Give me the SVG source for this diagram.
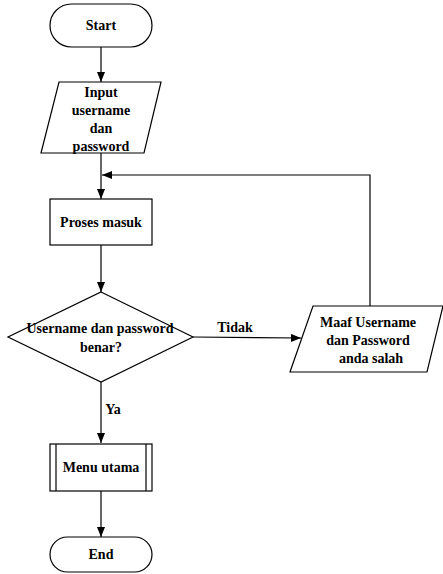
<svg xmlns="http://www.w3.org/2000/svg" width="443" height="574" viewBox="0 0 443 574">
<style>
.s{fill:#fff;stroke:#000;stroke-width:1.2}
.c{fill:none;stroke:#000;stroke-width:1.2}
text{font-family:"Liberation Serif","Times New Roman",serif;font-weight:bold;font-size:14px;fill:#000;text-anchor:middle}
</style>
<defs>
<marker id="a" markerWidth="10" markerHeight="8" refX="10" refY="4" orient="auto" markerUnits="userSpaceOnUse">
<path d="M0,0 L10,4 L0,8 Z" fill="#000"/>
</marker>
</defs>
<rect width="443" height="574" fill="#fff"/>
<g id="connectors">
<line class="c" x1="101" y1="47" x2="101" y2="82" marker-end="url(#a)"/>
<line class="c" x1="101" y1="153" x2="101" y2="199" marker-end="url(#a)"/>
<line class="c" x1="101" y1="245" x2="101" y2="292" marker-end="url(#a)"/>
<line class="c" x1="193" y1="337" x2="301" y2="338" marker-end="url(#a)"/>
<polyline class="c" points="370,306 370,175 102,175" marker-end="url(#a)"/>
<line class="c" x1="101" y1="382" x2="101" y2="443" marker-end="url(#a)"/>
<line class="c" x1="101" y1="491" x2="101" y2="537" marker-end="url(#a)"/>
<text x="235" y="332">Tidak</text>
<text x="113" y="414">Ya</text>
</g>
<g id="start">
<rect class="s" x="50" y="4" width="102" height="43" rx="21.5"/>
<text x="101" y="30">Start</text>
</g>
<g id="input">
<polygon class="s" points="59,82 161,82 144,153 41,153"/>
<text x="101" y="97">Input</text>
<text x="101" y="115">username</text>
<text x="101" y="133">dan</text>
<text x="101" y="151">password</text>
</g>
<g id="proses">
<rect class="s" x="50" y="199" width="102" height="46"/>
<text x="101" y="227">Proses masuk</text>
</g>
<g id="decision">
<polygon class="s" points="101,292 193,337 101,382 8,337"/>
<text x="100" y="333">Username dan password</text>
<text x="101" y="352">benar?</text>
</g>
<g id="error">
<polygon class="s" points="313,306 443,306 427,372 290,372"/>
<text x="368" y="327">Maaf Username</text>
<text x="368" y="345">dan Password</text>
<text x="371" y="363">anda salah</text>
</g>
<g id="menu">
<rect class="s" x="50" y="444" width="102" height="47"/>
<line class="c" x1="56" y1="444" x2="56" y2="491"/>
<line class="c" x1="146" y1="444" x2="146" y2="491"/>
<text x="101" y="472">Menu utama</text>
</g>
<g id="end">
<rect class="s" x="50" y="537" width="102" height="35" rx="17.5"/>
<text x="101" y="559">End</text>
</g>
</svg>
